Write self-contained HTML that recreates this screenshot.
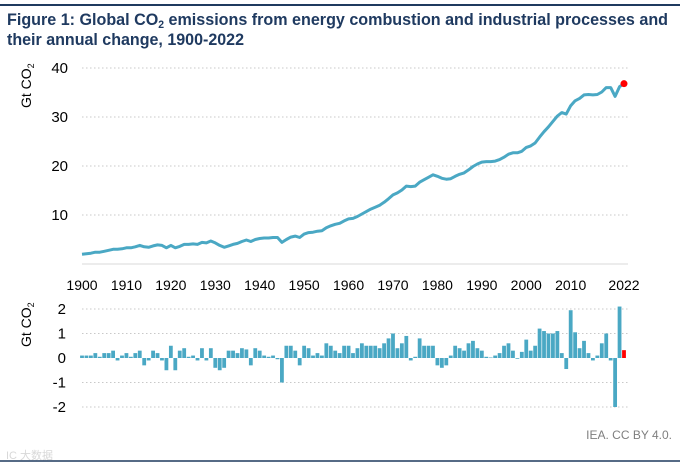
<!DOCTYPE html>
<html><head><meta charset="utf-8"><style>
html,body{margin:0;padding:0;background:#fff;}
svg{display:block;font-family:"Liberation Sans",Arial,sans-serif;}
</style></head><body>
<svg id="chart" width="682" height="467" viewBox="0 0 682 467">
<line x1="0" y1="5" x2="680" y2="5" stroke="#1f3a5f" stroke-width="2"/>
<text x="7" y="25" font-size="17" font-weight="bold" fill="#1f3a60" textLength="661" lengthAdjust="spacingAndGlyphs">Figure 1: Global CO<tspan font-size="11" dy="3">2</tspan><tspan dy="-3"> emissions from energy combustion and industrial processes and</tspan></text>
<text x="7" y="45" font-size="17" font-weight="bold" fill="#1f3a60" textLength="237" lengthAdjust="spacingAndGlyphs">their annual change, 1900-2022</text>
<text transform="translate(31,108) rotate(-90)" font-size="14" fill="#000">Gt CO<tspan font-size="9" dy="3">2</tspan></text>
<text transform="translate(31,347) rotate(-90)" font-size="14" fill="#000">Gt CO<tspan font-size="9" dy="3">2</tspan></text>
<g id="top"></g>
<g id="bottom"></g>
<text x="672" y="439" font-size="12" fill="#7f7f7f" text-anchor="end">IEA. CC BY 4.0.</text>
<text x="6" y="459" font-size="11" fill="#d8d8d8">IC 大数据</text>
<line x1="0" y1="461" x2="680" y2="461" stroke="#1f3a5f" stroke-width="1.5"/>
</svg>
<script>
const startYear = 1900;
const xTickLabels = [1900,1910,1920,1930,1940,1950,1960,1970,1980,1990,2000,2010,2022];
const topYTicks = [10,20,30,40];
const bottomYTicks = [2,1,0,-1,-2];
const emissions = [2.0,2.1,2.2,2.4,2.4,2.6,2.8,3.0,3.0,3.1,3.3,3.3,3.5,3.8,3.5,3.4,3.7,3.9,3.8,3.3,3.8,3.3,3.6,4.0,4.0,4.1,4.0,4.4,4.3,4.7,4.3,3.8,3.4,3.7,4.0,4.2,4.6,4.9,4.6,5.0,5.2,5.3,5.3,5.4,5.4,4.4,5.0,5.5,5.7,5.4,6.1,6.4,6.5,6.7,6.8,7.4,7.8,8.1,8.3,8.8,9.2,9.3,9.7,10.2,10.7,11.2,11.6,12.0,12.6,13.3,14.1,14.5,15.1,15.9,15.8,15.9,16.7,17.2,17.7,18.2,17.9,17.5,17.3,17.4,17.9,18.3,18.6,19.2,19.9,20.4,20.8,20.9,20.9,21.0,21.3,21.8,22.4,22.7,22.7,23.0,23.8,24.1,24.7,25.9,27.0,28.0,29.1,30.2,30.9,30.6,32.3,33.3,33.8,34.5,34.6,34.5,34.6,35.1,36.0,36.0,34.2,36.2,36.8];
const changes = [0.1,0.1,0.1,0.2,0.05,0.2,0.2,0.3,-0.1,0.1,0.2,0.05,0.2,0.3,-0.3,-0.1,0.3,0.2,-0.1,-0.5,0.5,-0.5,0.3,0.4,0.05,0.1,-0.1,0.4,-0.1,0.4,-0.4,-0.5,-0.4,0.3,0.3,0.2,0.4,0.35,-0.3,0.4,0.3,0.1,0.05,0.1,-0.05,-1.0,0.5,0.5,0.3,-0.3,0.5,0.4,0.1,0.2,0.1,0.6,0.5,0.3,0.2,0.5,0.5,0.2,0.4,0.6,0.5,0.5,0.5,0.4,0.6,0.8,1.0,0.4,0.6,0.9,-0.1,0.05,0.8,0.5,0.5,0.5,-0.3,-0.4,-0.3,0.1,0.5,0.4,0.3,0.6,0.7,0.4,0.3,0.05,0.02,0.1,0.2,0.5,0.6,0.3,-0.03,0.25,0.75,0.3,0.5,1.2,1.1,1.0,1.0,1.1,0.2,-0.45,1.95,1.05,0.4,0.7,0.2,-0.1,0.1,0.6,1.0,-0.1,-2.0,2.1,0.32];

const NS = "http://www.w3.org/2000/svg";
const x = yr => 82 + (yr - 1900) * (542 / 122);
const yTop = v => 264 - v * 4.9;
const yBot = v => 358 - v * 24.5;
function mk(tag, attrs, parent){ const e=document.createElementNS(NS,tag); for(const k in attrs) e.setAttribute(k,attrs[k]); parent.appendChild(e); return e; }
const gT = document.getElementById('top'), gB = document.getElementById('bottom');

topYTicks.forEach(t=>{
  const l = mk('line',{x1:82,x2:628,y1:yTop(t),y2:yTop(t),stroke:'#c8c8c8','stroke-dasharray':'1.5,2.5','stroke-width':1},gT);
  
  
  const tx = mk('text',{x:68,y:yTop(t)+5,'font-size':15,'text-anchor':'end',fill:'#000'},gT);
  tx.textContent = t;
  
  
});
const base = mk('line',{x1:82,x2:628,y1:264,y2:264,stroke:'#d9d9d9','stroke-width':1},gT);


xTickLabels.forEach(t=>{
  const tx = mk('text',{x:x(t),y:290,'font-size':14,'text-anchor':'middle',fill:'#000'},gT);
  tx.textContent = t;
  
  
});
const pts = emissions.map((v,i)=>x(startYear+i).toFixed(1)+','+yTop(v).toFixed(1)).join(' ');
const line = mk('polyline',{points:pts,fill:'none',stroke:'#4aa8c4','stroke-width':3,'stroke-linejoin':'round'},gT);


const last = emissions.length-1;
const dot = mk('circle',{cx:x(startYear+last),cy:yTop(emissions[last]),r:3.5,fill:'#ff0000'},gT);



bottomYTicks.forEach(t=>{
  if(t!==0){
    const l = mk('line',{x1:82,x2:628,y1:yBot(t),y2:yBot(t),stroke:'#c8c8c8','stroke-dasharray':'1.5,2.5','stroke-width':1},gB);
    
    
  }
  const tx = mk('text',{x:66,y:yBot(t)+5,'font-size':15,'text-anchor':'end',fill:'#000'},gB);
  tx.textContent = t;
  
  
});
changes.forEach((v,i)=>{
  const yr = startYear+i;
  const y0 = yBot(Math.max(v,0)), h = Math.abs(yBot(v)-yBot(0));
  const r = mk('rect',{x:x(yr)-1.9,y:y0,width:3.8,height:Math.max(h,0.5),fill: i===last?'#ff0000':'#4aa8c4'},gB);
  
  
});
</script>
</body></html>
